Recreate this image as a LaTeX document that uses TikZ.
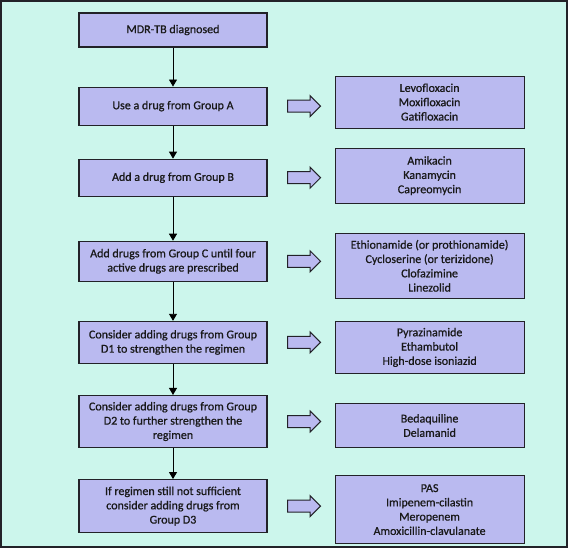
\documentclass[tikz,border=0pt]{standalone}
\usepackage{fontspec}
\setmainfont{Carlito}
\newfontfamily\boxfont{Carlito}[FakeBold=0.8]
\usetikzlibrary{positioning, shapes.arrows, arrows.meta, calc}

\definecolor{mint}{RGB}{204,246,236}
\definecolor{lavender}{RGB}{186,186,240}
\definecolor{edge}{RGB}{34,34,40}

\begin{document}
\begin{tikzpicture}[
    >=Triangle, % filled triangle tips
    % Styles
    stepbox/.style={
        rectangle,
        fill=lavender,
        draw=edge,
        line width=1.1pt,
        minimum width=188pt,
        inner sep=3pt,
        align=center,
        font=\boxfont\fontsize{12}{14.3}\selectfont,
        text=black!90
    },
    drugbox/.style={
        stepbox,
        minimum width=189pt
    },
    arrow/.style={
        -{Triangle[width=8pt,length=7pt]},
        line width=0.9pt,
        draw=black
    },
    blockarrow/.style={ % hollow arrow towards the drug list
        single arrow,
        fill=lavender,
        draw=edge,
        line width=1pt,
        inner xsep=0pt,
        inner ysep=5.5pt,
        minimum height=33pt,
        single arrow head extend=4.5pt
    }
]

    % Frame
    \useasboundingbox (0,0) rectangle (568pt,-548pt);
    \draw[fill=mint, draw=edge, line width=2pt] (1pt,-1pt) rectangle (567pt,-547pt);

    % Steps
    \node[stepbox, minimum height=34pt] (diag) at (173pt,-30pt) {MDR-TB diagnosed};
    \node[stepbox, minimum height=38pt, below=39pt of diag] (grpA) {Use a drug from Group A};
    \node[stepbox, minimum height=37pt, below=33pt of grpA] (grpB) {Add a drug from Group B};
    \node[stepbox, minimum height=40pt, below=44pt of grpB] (grpC) {Add drugs from Group C until four\\active drugs are prescribed};
    \node[stepbox, minimum height=42pt, below=39pt of grpC] (grpDa) {Consider adding drugs from Group\\D1 to strengthen the regimen};
    \node[stepbox, minimum height=52pt, below=31pt of grpDa] (grpDb) {Consider adding drugs from Group\\D2 to further strengthen the\\regimen};
    \node[stepbox, minimum height=53pt, below=31pt of grpDb] (grpDc) {If regimen still not sufficient\\consider adding drugs from\\Group D3};

    % Drug lists
    \node[drugbox, minimum height=52pt, right=67pt of grpA, yshift=4pt] (drugA) {Levofloxacin\\Moxifloxacin\\Gatifloxacin};
    \node[drugbox, minimum height=55pt, right=67pt of grpB, yshift=2pt] (drugB) {Amikacin\\Kanamycin\\Capreomycin};
    \node[drugbox, minimum height=65pt, right=67pt of grpC, yshift=-4.5pt] (drugC) {Ethionamide (or prothionamide)\\Cycloserine (or terizidone)\\Clofazimine\\Linezolid};
    \node[drugbox, minimum height=52pt, right=67pt of grpDa, yshift=-5pt] (drugDa) {Pyrazinamide\\Ethambutol\\High-dose isoniazid};
    \node[drugbox, minimum height=44pt, right=67pt of grpDb, yshift=-4pt] (drugDb) {Bedaquiline\\Delamanid};
    \node[drugbox, minimum height=68pt, right=67pt of grpDc, yshift=-3.5pt] (drugDc) {PAS\\Imipenem-cilastin\\Meropenem\\Amoxicillin-clavulanate};

    % Connections
    \foreach \i/\j in {diag/grpA, grpA/grpB, grpB/grpC, grpC/grpDa, grpDa/grpDb, grpDb/grpDc} {
        \draw[arrow] (\i) -- (\j);
    }

    % Block arrows
    \foreach \i/\j in {grpA/drugA, grpB/drugB, grpC/drugC, grpDa/drugDa, grpDb/drugDb, grpDc/drugDc} {
        \node[blockarrow] at ($(\i.east)!0.5!(\i.east -| \j.west)$) {};
    }
\end{tikzpicture}
\end{document}
